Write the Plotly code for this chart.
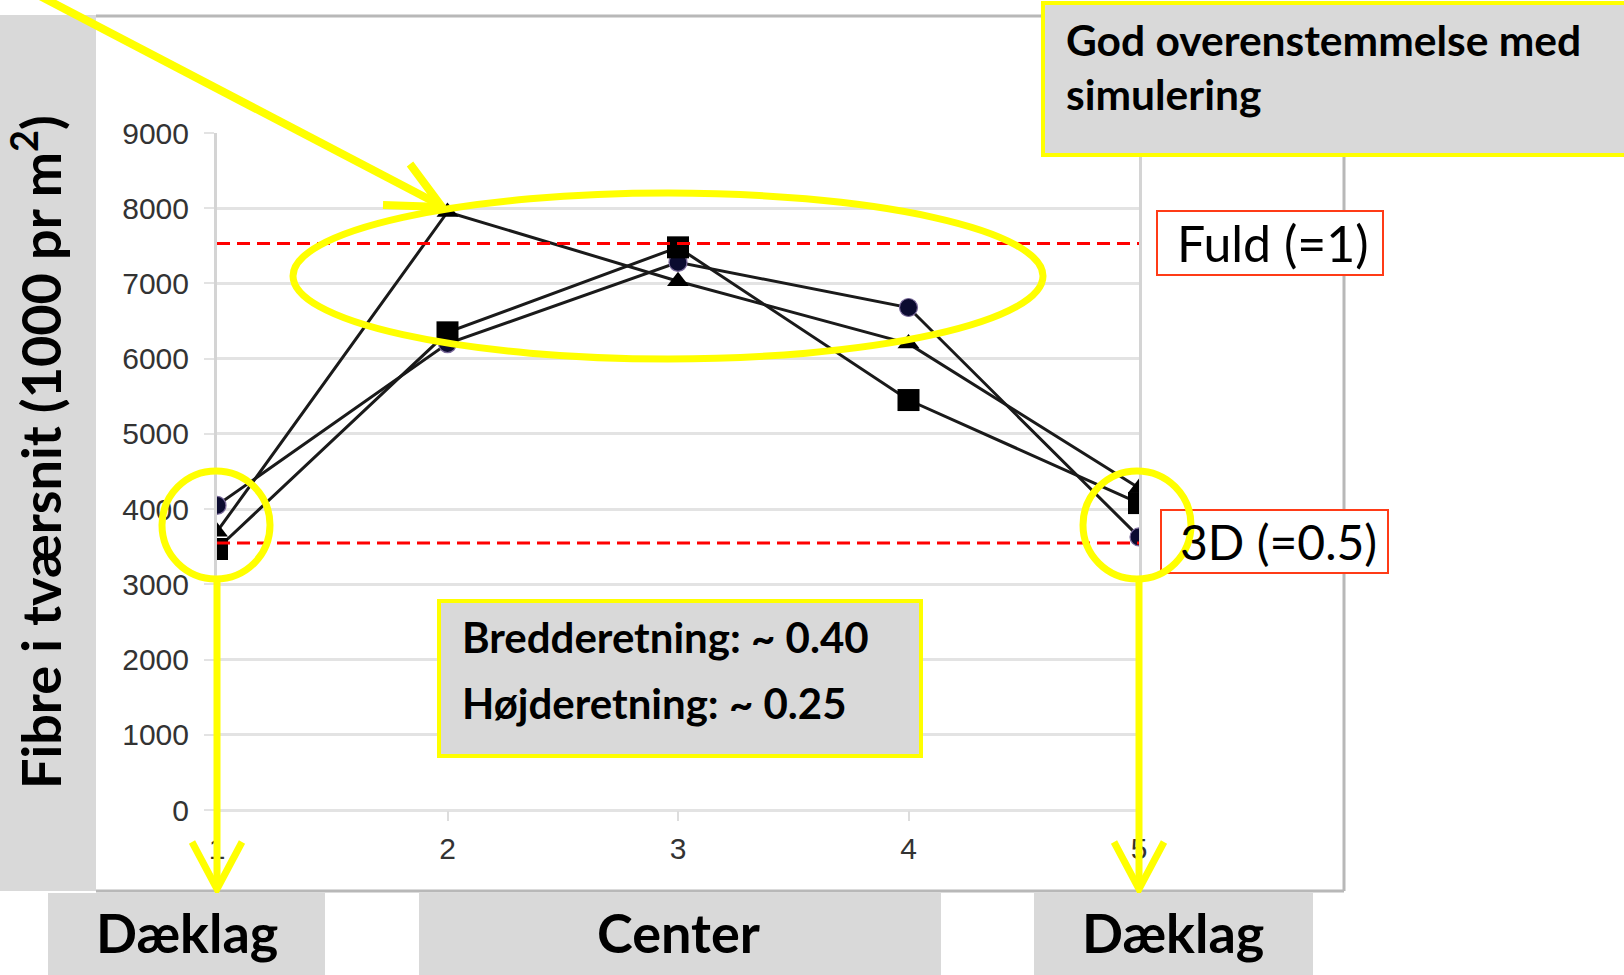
import plotly.graph_objects as go

# ---------------- data ----------------
positions = [1, 2, 3, 4, 5]
series_circle = [4050, 6200, 7280, 6680, 3630]
series_triangle = [3700, 7950, 7030, 6200, 4280]
series_square = [3470, 6350, 7480, 5450, 4080]
y_ticks = [0, 1000, 2000, 3000, 4000, 5000, 6000, 7000, 8000, 9000]
full_level = 7530      # "Fuld (=1)"
threed_level = 3550    # "3D (=0.5)"

y_title = "Fibre i tværsnit (1000 pr m<sup>2</sup>)"
box_top_lines = ["God overenstemmelse med", "simulering"]
box_mid_lines = ["Bredderetning: ~ 0.40", "Højderetning: ~ 0.25"]
label_full = "Fuld (=1)"
label_3d = "3D (=0.5)"
bottom_labels = ["Dæklag", "Center", "Dæklag"]

# ---------------- layout geometry (pixels) ----------------
FW, FH = 1624, 975
ML, MR, MT, MB = 217, 485, 133, 165
PW = FW - ML - MR
PH = FH - MT - MB


def px(x):
    return (x - ML) / PW


def py(y):
    return (FH - MB - y) / PH


YEL = "#ffff00"
GRAY = "#d9d9d9"
BORDER = "#b8b8b8"
RED = "#ff0000"
REDBOX = "#ff3b17"

fig = go.Figure()

fig.add_trace(go.Scatter(
    x=positions, y=series_circle, mode="lines+markers",
    line=dict(color="#1a1a1a", width=3),
    marker=dict(symbol="circle", size=18, color="#0b0b30",
                line=dict(color="#7a6a9a", width=1.2)),
    showlegend=False, hoverinfo="skip"))
fig.add_trace(go.Scatter(
    x=positions, y=series_square, mode="lines+markers",
    line=dict(color="#1a1a1a", width=3),
    marker=dict(symbol="square", size=22, color="#000000"),
    showlegend=False, hoverinfo="skip"))
fig.add_trace(go.Scatter(
    x=positions, y=series_triangle, mode="lines+markers",
    line=dict(color="#1a1a1a", width=3),
    marker=dict(symbol="triangle-up", size=19, color="#000000"),
    showlegend=False, hoverinfo="skip"))

shapes = []


def rect(x0, y0, x1, y1, fill, line_color=None, width=0):
    shapes.append(dict(type="rect", xref="paper", yref="paper",
                       x0=px(x0), x1=px(x1), y0=py(y1), y1=py(y0),
                       fillcolor=fill,
                       line=dict(color=line_color or fill, width=width),
                       layer="above"))


def seg(x0, y0, x1, y1, color, width):
    shapes.append(dict(type="line", xref="paper", yref="paper",
                       x0=px(x0), y0=py(y0), x1=px(x1), y1=py(y1),
                       line=dict(color=color, width=width), layer="above"))


def path(points, color, width):
    d = "M " + " L ".join(f"{px(a)},{py(b)}" for a, b in points)
    shapes.append(dict(type="path", xref="paper", yref="paper", path=d,
                       line=dict(color=color, width=width), layer="above"))


def ellipse(cx, cy, rx, ry, color, width):
    shapes.append(dict(type="circle", xref="paper", yref="paper",
                       x0=px(cx - rx), x1=px(cx + rx),
                       y0=py(cy + ry), y1=py(cy - ry),
                       line=dict(color=color, width=width), layer="above"))


# left y-label panel
rect(0, 15, 96, 891, GRAY)
# chart outer border
seg(96, 16, 1060, 16, BORDER, 3)
seg(1344, 16, 1344, 891, BORDER, 3)
seg(96, 891, 1344, 891, BORDER, 3)
# right edge line of the plot continues below the axis
seg(1139, 810, 1139, 891, "#d4d4d4", 3)

# red reference lines (data coords)
for lvl in (full_level, threed_level):
    shapes.append(dict(type="line", xref="x", yref="y", x0=positions[0],
                       x1=positions[-1], y0=lvl, y1=lvl,
                       line=dict(color=RED, width=3, dash="13px,7px"),
                       layer="above"))

# red label boxes
rect(1157, 211, 1383, 275, "white", REDBOX, 2)
rect(1161, 510, 1388, 573, "white", REDBOX, 2)

# yellow ellipse and circles
ellipse(668, 276, 375, 83, YEL, 7)
ellipse(216, 525, 54, 54, YEL, 7)
ellipse(1137, 525, 54, 54, YEL, 7)

# yellow down arrows
for xc in (217, 1139):
    seg(xc, 580, xc, 884, YEL, 7)
    path([(xc - 25, 842), (xc, 889), (xc + 25, 842)], YEL, 7)

# yellow diagonal arrow
seg(15, -17, 440, 205, YEL, 8)
path([(410, 164), (442, 207), (383, 205)], YEL, 8)

# grey text boxes
rect(1043, 3, 1640, 155, GRAY, YEL, 4)
rect(439, 601, 921, 756, GRAY, YEL, 4)

# bottom label boxes
rect(48, 893, 325, 980, GRAY)
rect(419, 893, 941, 980, GRAY)
rect(1034, 893, 1313, 980, GRAY)

fig.update_layout(shapes=shapes)

ann = []


def text(x, y, s, size, bold=True, xanchor="left", angle=0, family="Lato"):
    ann.append(dict(x=px(x), y=py(y), xref="paper", yref="paper",
                    text=f"<b>{s}</b>" if bold else s, showarrow=False,
                    xanchor=xanchor, yanchor="middle", textangle=angle,
                    font=dict(family=family, size=size, color="#000000")))


text(37, 452, y_title, 54, bold=True, xanchor="center", angle=-90)
text(1064, 40, box_top_lines[0], 42.5)
text(1064, 94, box_top_lines[1], 42.5)
text(460, 637, box_mid_lines[0], 42)
text(460, 703, box_mid_lines[1], 42)
text(1175, 243, label_full, 50, bold=False)
text(1178, 541, label_3d, 48, bold=False)
for xc, lab in zip((187, 678, 1173), bottom_labels):
    text(xc, 932, lab, 54, xanchor="center")

fig.update_layout(
    annotations=ann,
    width=FW, height=FH,
    margin=dict(l=ML, r=MR, t=MT, b=MB, pad=0),
    paper_bgcolor="white", plot_bgcolor="white",
    xaxis=dict(range=[1, 5], tickvals=positions,
               ticktext=[str(p) for p in positions],
               showgrid=False, zeroline=False,
               showline=False,
               ticks="outside", ticklen=10, tickwidth=2, tickcolor="#dddddd",
               ticklabelstandoff=2,
               tickfont=dict(family="Liberation Sans", size=30, color="#333333")),
    yaxis=dict(range=[0, 9000], tickvals=y_ticks,
               showgrid=True, gridcolor="#e3e3e3", gridwidth=3,
               zeroline=True, zerolinecolor="#e3e3e3", zerolinewidth=3,
               showline=True, linecolor="#d4d4d4", linewidth=3, mirror=True,
               ticks="outside", ticklen=10, tickwidth=2, tickcolor="#e3e3e3",
               ticklabelstandoff=9,
               tickfont=dict(family="Liberation Sans", size=30, color="#333333")),
)

fig.write_html("out.html", config={"displayModeBar": False})

# remove the default page margin so the figure sits at the window's top-left
with open("out.html", "r", encoding="utf-8") as fh:
    html = fh.read()
html = html.replace("<head>", "<head><style>html,body{margin:0;padding:0;overflow:hidden;}</style>", 1)
with open("out.html", "w", encoding="utf-8") as fh:
    fh.write(html)
